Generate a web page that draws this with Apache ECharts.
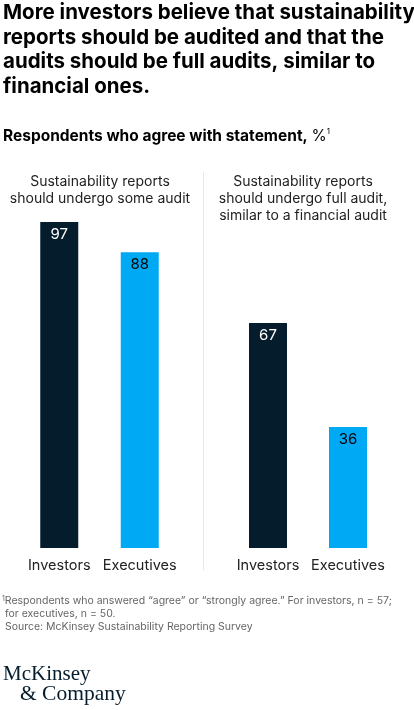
<!DOCTYPE html>
<html>
<head>
<meta charset="utf-8">
<script src="https://cdn.jsdelivr.net/npm/echarts@6/dist/echarts.min.js"></script>
<style>
  html, body { margin: 0; padding: 0; background: #fff; }
  #chart { width: 414px; height: 710px; }
</style>
</head>
<body>
<div id="chart"></div>
<script>
// data
const categories = ['Investors', 'Executives'];
const someAudit = [97, 88];
const fullAudit = [67, 36];
const panelTitles = [
  'Sustainability reports\nshould undergo some audit',
  'Sustainability reports\nshould undergo full audit,\nsimilar to a financial audit'
];

const barColors = ['#051c2c', '#00a9f4'];
const labelColors = ['#ffffff', '#000000'];
const font = 'Inter, Roboto, sans-serif';

function barData(values) {
  return values.map((v, i) => ({
    value: v,
    itemStyle: { color: barColors[i] },
    label: { color: labelColors[i] }
  }));
}

let myChart = echarts.init(document.getElementById('chart'));

let xAxisCommon = {
  type: 'category',
  data: categories,
  axisLine: { show: false },
  axisTick: { show: false },
  axisLabel: { interval: 0, fontSize: 14.5, color: '#222', fontFamily: font, margin: 10 }
};
let yAxisCommon = {
  type: 'value',
  min: 0,
  max: 100,
  show: false
};
let seriesCommon = {
  type: 'bar',
  barWidth: 38,
  label: {
    show: true,
    position: 'insideTop',
    distance: 5,
    fontSize: 15,
    fontFamily: font
  }
};

let option = {
  animation: false,
  grid: [
    { left: 19, width: 161, top: 212, height: 336 },
    { left: 228, width: 160, top: 212, height: 336 }
  ],
  xAxis: [
    Object.assign({ gridIndex: 0 }, xAxisCommon),
    Object.assign({ gridIndex: 1 }, xAxisCommon)
  ],
  yAxis: [
    Object.assign({ gridIndex: 0 }, yAxisCommon),
    Object.assign({ gridIndex: 1 }, yAxisCommon)
  ],
  series: [
    Object.assign({}, seriesCommon, { name: 'some audit', xAxisIndex: 0, yAxisIndex: 0, data: barData(someAudit) }),
    Object.assign({}, seriesCommon, { name: 'full audit', xAxisIndex: 1, yAxisIndex: 1, data: barData(fullAudit) })
  ],
  graphic: [
    {
      type: 'text', left: 3, top: 1,
      style: {
        text: 'More investors believe that sustainability\nreports should be audited and that the\naudits should be full audits, similar to\nfinancial ones.',
        font: 'bold 20.5px ' + font, fill: '#000', lineHeight: 24.5
      }
    },
    {
      type: 'text', left: 3, top: 128,
      style: {
        text: '{b|Respondents who agree with statement, }{n|%}{s|1}',
        rich: {
          b: { font: 'bold 15.5px ' + font, fill: '#000' },
          n: { font: '15.5px ' + font, fill: '#000' },
          s: { font: '8px ' + font, fill: '#000', padding: [0, 0, 9, 0] }
        }
      }
    },
    {
      type: 'text', x: 100, y: 173,
      style: { text: panelTitles[0], font: '14px ' + font, fill: '#222', align: 'center', lineHeight: 17 }
    },
    {
      type: 'text', x: 303, y: 173,
      style: { text: panelTitles[1], font: '14px ' + font, fill: '#222', align: 'center', lineHeight: 17 }
    },
    {
      type: 'line',
      shape: { x1: 203.5, y1: 172, x2: 203.5, y2: 570 },
      style: { stroke: '#e8e8e8', lineWidth: 1 }
    },
    {
      type: 'text', left: 2, top: 595,
      style: {
        text: '{s|1}{t|Respondents who answered \u201cagree\u201d or \u201cstrongly agree.\u201d For investors, n = 57;}\n{t| for executives, n = 50.}\n{t| Source: McKinsey Sustainability Reporting Survey}',
        rich: {
          t: { font: '10.5px ' + font, fill: '#666', lineHeight: 13 },
          s: { font: '7px ' + font, fill: '#666', padding: [0, 0, 5, 0] }
        }
      }
    },
    {
      type: 'text', left: 3, top: 664,
      style: { text: 'McKinsey', font: '21px "Liberation Serif", serif', fill: '#051c2c' }
    },
    {
      type: 'text', left: 20, top: 683,
      style: { text: '& Company', font: '21.5px "Liberation Serif", serif', fill: '#051c2c' }
    }
  ]
};
myChart.setOption(option);
</script>
</body>
</html>
